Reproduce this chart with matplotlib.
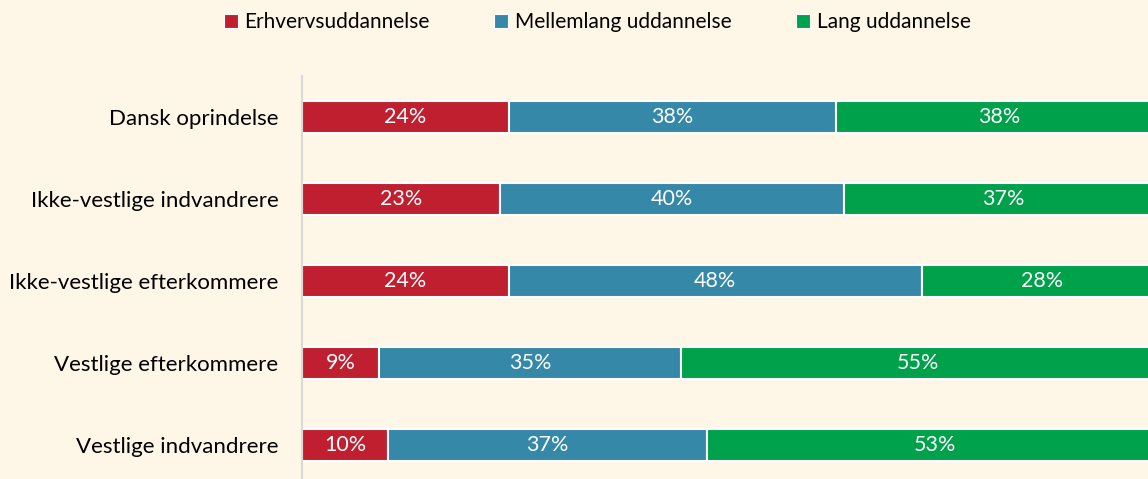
import matplotlib
matplotlib.use("Agg")
import matplotlib.pyplot as plt
from matplotlib.lines import Line2D

plt.rcParams['font.family'] = ['Lato', 'DejaVu Sans']

categories = ["Dansk oprindelse", "Ikke-vestlige indvandrere", "Ikke-vestlige efterkommere",
              "Vestlige efterkommere", "Vestlige indvandrere"]
series_names = ["Erhvervsuddannelse", "Mellemlang uddannelse", "Lang uddannelse"]
erhverv = [24, 23, 24, 9, 10]
mellemlang = [38, 40, 48, 35, 37]
lang = [38, 37, 28, 55, 53]

colors = ["#C01F30", "#3588A7", "#00A14B"]
bg = "#FEF6E7"

fig = plt.figure(figsize=(11.48, 4.79), dpi=100, facecolor=bg)
ax = fig.add_axes([302 / 1148, -7 / 479, 1 - 302 / 1148 + 15 / 1148, 410 / 479])
ax.set_facecolor(bg)

y = list(range(len(categories)))
left = [0] * len(categories)
for vals, col in zip([erhverv, mellemlang, lang], colors):
    ax.barh(y, vals, left=left, height=0.40, color=col, edgecolor="white", linewidth=1.5)
    for yi, l, v in zip(y, left, vals):
        ax.text(l + v / 2, yi, f"{v}%", ha="center", va="center", color="white", fontsize=15.5)
    left = [a + b for a, b in zip(left, vals)]

ax.set_xlim(0, 100)
ax.set_ylim(4.5, -0.5)
ax.set_yticks(y)
ax.set_yticklabels(categories, fontsize=16)
ax.tick_params(axis="y", length=0, pad=17)
ax.set_xticks([])
for s in ["top", "right", "bottom"]:
    ax.spines[s].set_visible(False)
ax.spines["left"].set_color("#D9D9D9")
ax.spines["left"].set_linewidth(1.5)

handles = [Line2D([], [], marker="s", linestyle="", markersize=10, markerfacecolor=c,
                  markeredgecolor="white", markeredgewidth=0.8) for c in colors]
fig.legend(handles, series_names, loc="center", bbox_to_anchor=(596 / 1148, 1 - 22 / 479),
           ncol=3, frameon=False, fontsize=15, handletextpad=0.2, columnspacing=3.0,
           handlelength=0.9)

fig.savefig("out.png", dpi=100, facecolor=bg)
